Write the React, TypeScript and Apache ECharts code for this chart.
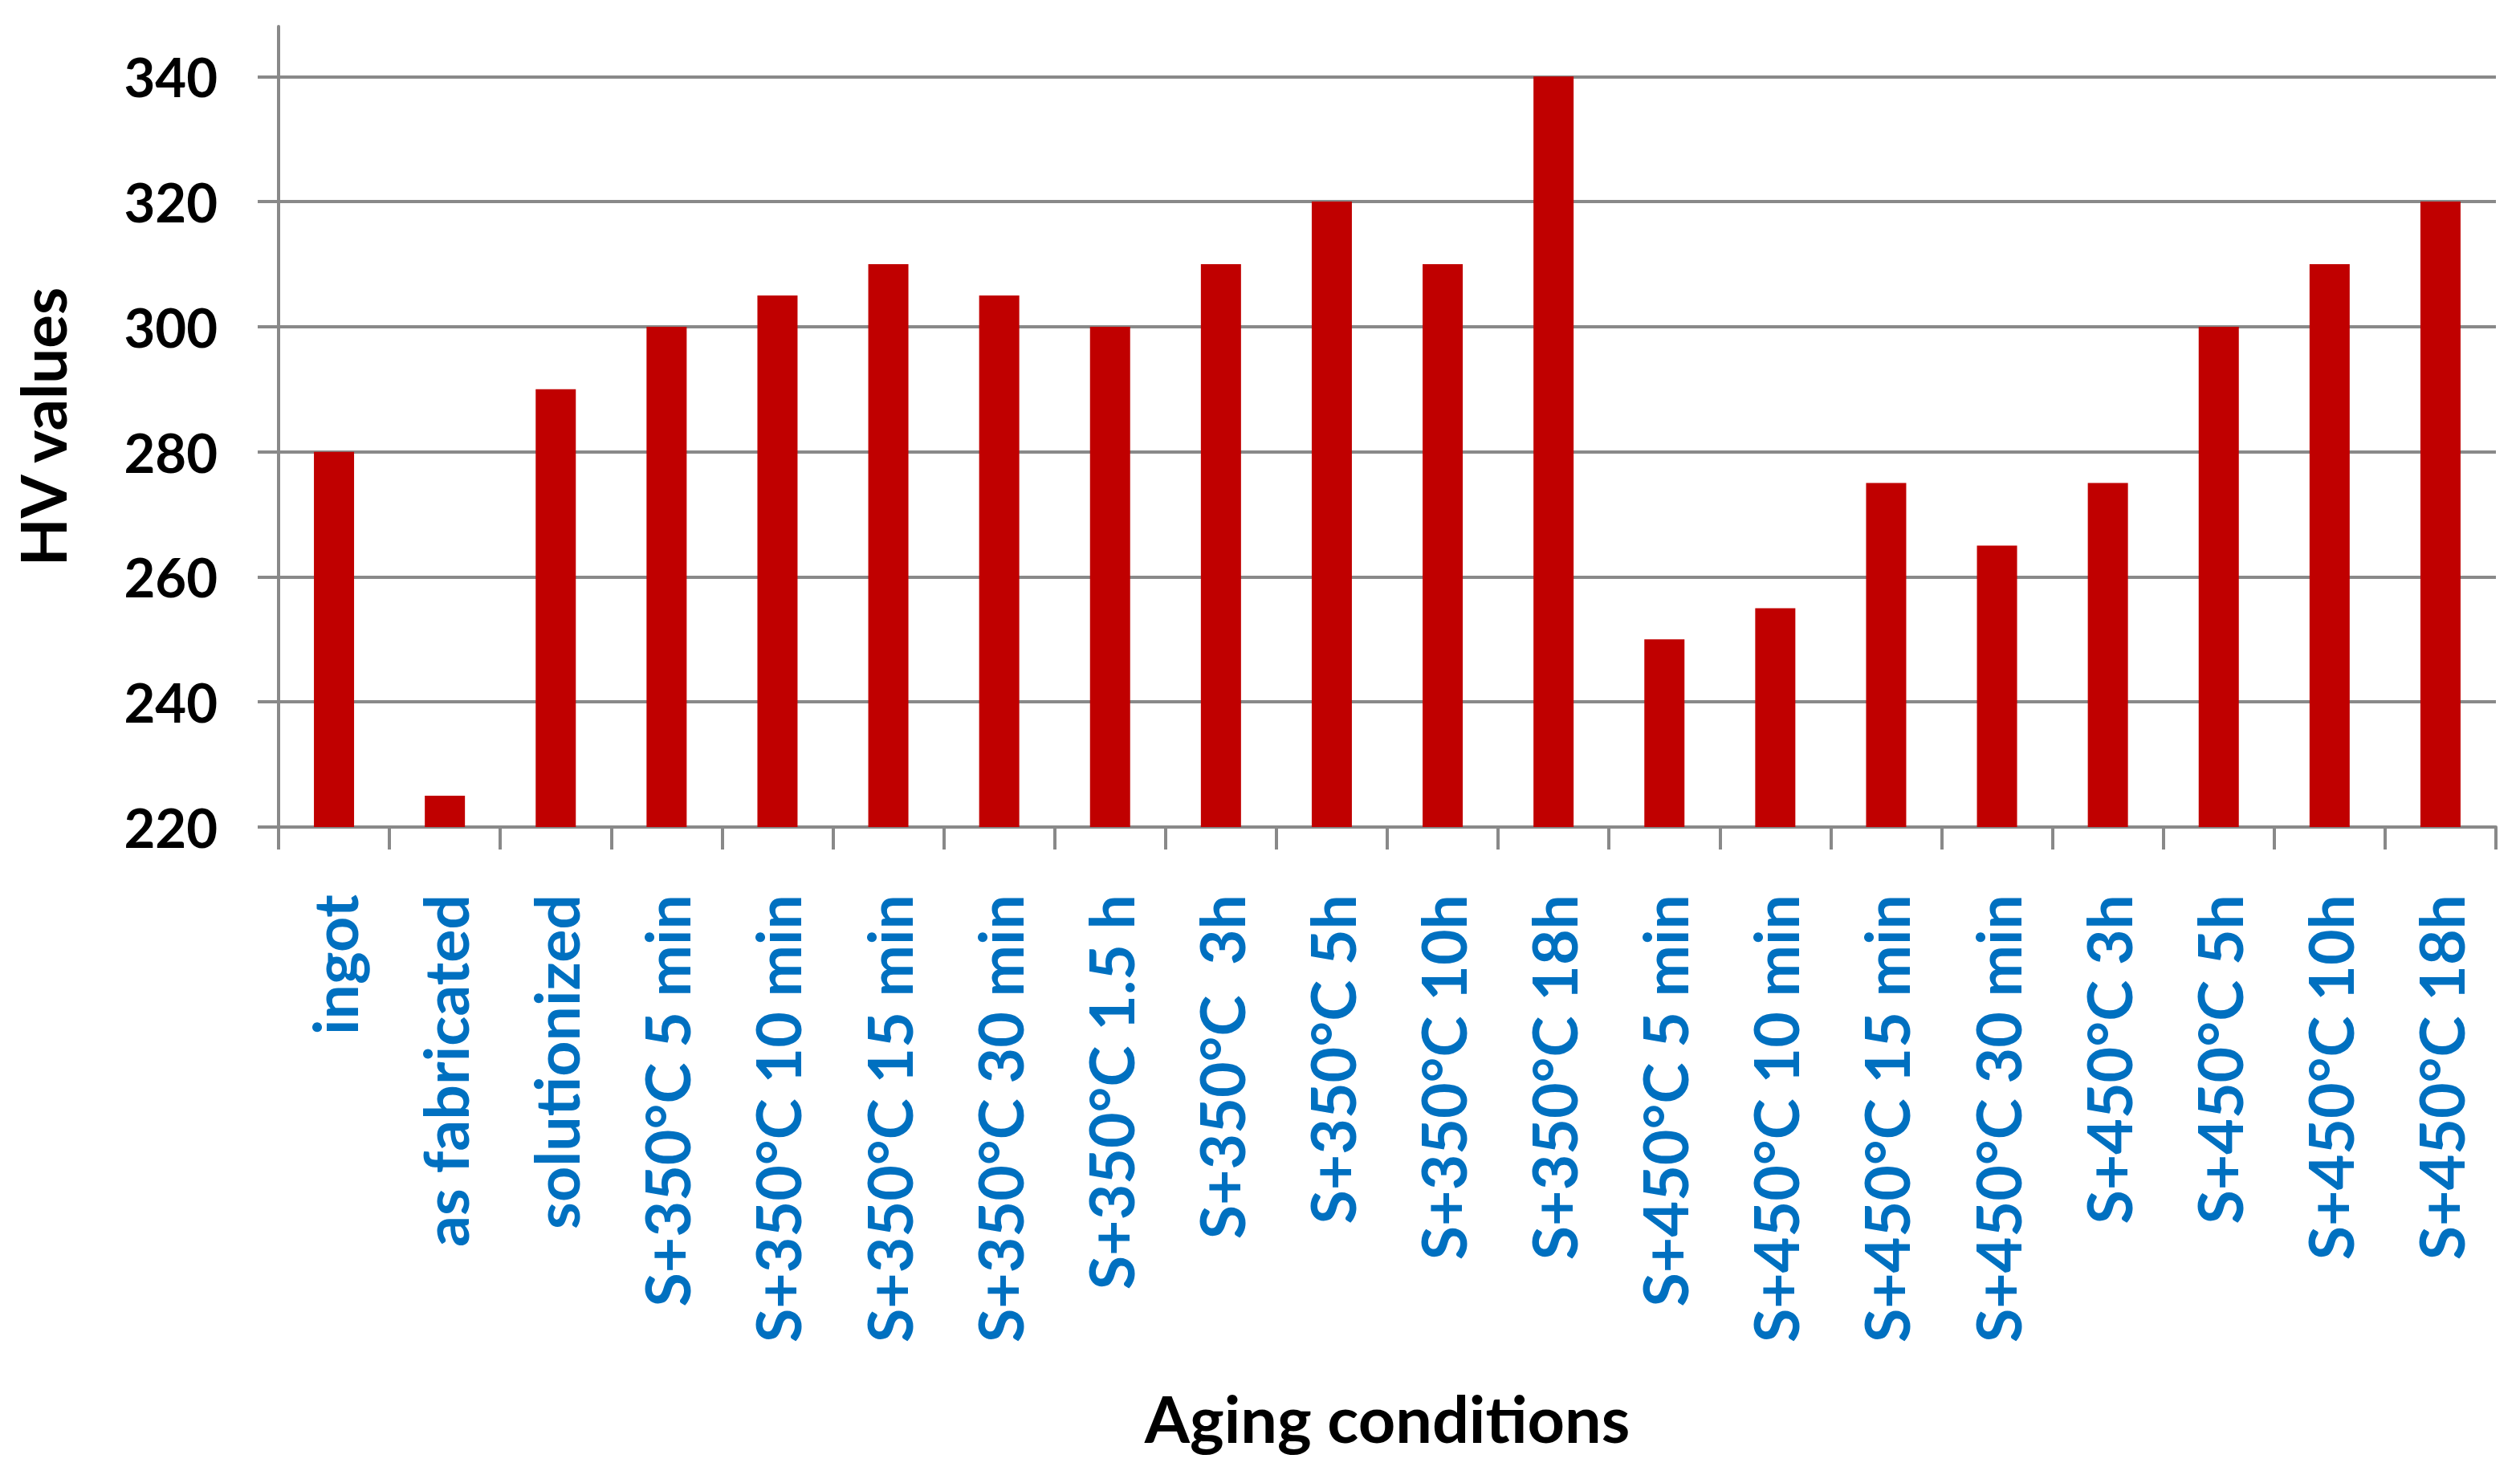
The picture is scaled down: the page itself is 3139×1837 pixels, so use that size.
import React, { useEffect, useRef } from "react";
import * as echarts from "echarts";

const categories = [
  "ingot",
  "as fabricated",
  "solutionized",
  "S+350°C 5 min",
  "S+350°C 10 min",
  "S+350°C 15 min",
  "S+350°C 30 min",
  "S+350°C 1.5 h",
  "S+350°C  3h",
  "S+350°C 5h",
  "S+350°C 10h",
  "S+350°C 18h",
  "S+450°C 5 min",
  "S+450°C 10 min",
  "S+450°C 15 min",
  "S+450°C 30 min",
  "S+450°C 3h",
  "S+450°C 5h",
  "S+450°C 10h",
  "S+450°C 18h",
];

const hvValues = [280, 225, 290, 300, 305, 310, 305, 300, 310, 320, 310, 340, 250, 255, 275, 265, 275, 300, 310, 320];

const yTicks = [220, 240, 260, 280, 300, 320, 340];

const FONT = "Lato";
const GREY = "#898989";

export default function App() {
  const ref = useRef<HTMLDivElement>(null);
  useEffect(() => {
    document.body.style.margin = "0";
    const chart = echarts.init(ref.current!, null, { renderer: "svg" });
    chart.setOption({
      animation: false,
      backgroundColor: "#ffffff",
      grid: { left: 347, right: 30, top: 33, bottom: 807, containLabel: false },
      xAxis: {
        type: "category",
        data: categories,
        boundaryGap: true,
        name: "Aging conditions",
        nameLocation: "middle",
        nameGap: 695,
        nameTextStyle: {
          fontFamily: FONT,
          fontWeight: "bold",
          fontSize: 81,
          color: "#000000",
          verticalAlign: "top",
        },
        axisLine: { show: true, lineStyle: { color: GREY, width: 4 } },
        axisTick: { show: true, inside: false, length: 28, alignWithLabel: false, lineStyle: { color: GREY, width: 4 } },
        axisLabel: {
          interval: 0,
          rotate: 90,
          margin: 84,
          fontFamily: FONT,
          fontWeight: "bold",
          fontSize: 77,
          color: "#0070C0",
        },
        splitLine: { show: false },
      },
      yAxis: {
        type: "value",
        min: 220,
        max: 348,
        interval: 20,
        name: "HV values",
        nameLocation: "middle",
        nameRotate: 90,
        nameGap: 255,
        nameTextStyle: {
          fontFamily: FONT,
          fontWeight: "bold",
          fontSize: 78,
          color: "#000000",
        },
        axisLine: { show: true, lineStyle: { color: GREY, width: 4 } },
        axisTick: { show: true, inside: false, length: 26, customValues: yTicks, lineStyle: { color: GREY, width: 4 } },
        axisLabel: {
          customValues: yTicks,
          margin: 76,
          fontFamily: FONT,
          fontWeight: "bold",
          fontSize: 67,
          color: "#000000",
        },
        splitLine: { show: true, lineStyle: { color: GREY, width: 4 } },
      },
      series: [
        {
          type: "bar",
          data: hvValues,
          barWidth: 50,
          itemStyle: { color: "#C00000" },
        },
      ],
    });
    return () => chart.dispose();
  }, []);
  return <div ref={ref} style={{ width: 3139, height: 1837 }} />;
}
